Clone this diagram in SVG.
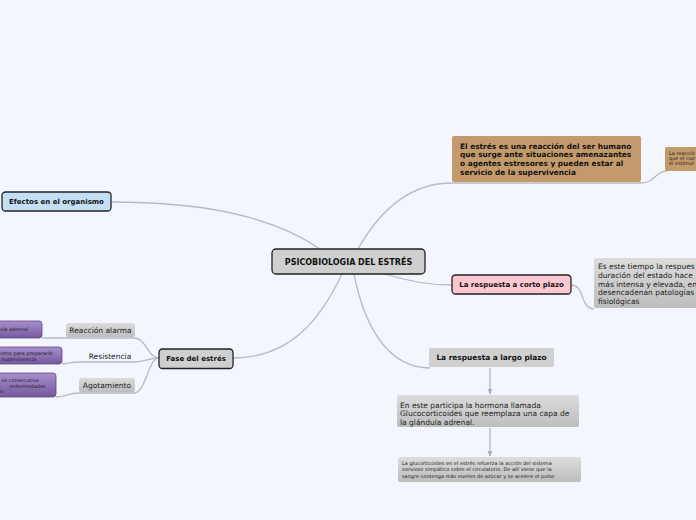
<svg xmlns="http://www.w3.org/2000/svg" width="696" height="520" viewBox="0 0 696 520">
<defs>
<linearGradient id="gg" x1="0" y1="0" x2="0" y2="1"><stop offset="0" stop-color="#dcdcdc"/><stop offset="1" stop-color="#bdbdbd"/></linearGradient>
<linearGradient id="pg" x1="0" y1="0" x2="0" y2="1"><stop offset="0" stop-color="#a690cc"/><stop offset="1" stop-color="#75599f"/></linearGradient>
<marker id="ah" viewBox="0 0 10 10" refX="9" refY="5" markerWidth="5" markerHeight="5" orient="auto"><path d="M0,1 L10,5 L0,9 z" fill="#a8a8b0"/></marker>
<style>
.bg{fill:#f3f6fd}
.con{fill:none;stroke:#b9bac2;stroke-width:1.3}
.arr{fill:none;stroke:#b0b0b8;stroke-width:1.2}
.dark{stroke:#222;stroke-width:1.3}
.gray{fill:url(#gg)}
.pur{fill:url(#pg);stroke:#5e4784;stroke-width:0.8}
.b{font-family:"DejaVu Sans",Verdana,sans-serif;font-weight:bold;fill:#111;font-size:7px}
.t{font-family:"DejaVu Sans",Verdana,sans-serif;fill:#222;font-size:7.5px}
.s{font-family:"DejaVu Sans",Verdana,sans-serif;fill:#222;font-size:5px}
.c{text-anchor:middle}
</style>
</defs>
<rect class="bg" x="0" y="0" width="696" height="520"/>
<g id="connectors">
<path class="con" d="M111,202 C200,202 270,215 320,249"/>
<path class="con" d="M358,249 C380,210 410,183 452,183 L641,183 C655,183 655,171 667,171"/>
<path class="con" d="M385,274 C410,282 430,285 452,285"/>
<path class="con" d="M571,285 C585,285 580,309 594,309"/>
<path class="con" d="M354,274 C365,330 390,368 430,368"/>
<path class="con" d="M342,274 C320,320 290,358 233,358"/>
<path class="con" d="M159,358 C148,358 146,338 134,338 L66,338 C55,338 52,338 42,338"/>
<path class="con" d="M159,358 C148,358 146,362 134,362 L80,362 C70,362 68,364 62,364"/>
<path class="con" d="M159,358 C148,358 146,393 134,393 L79,393 C68,393 66,397 56,397"/>
<path class="arr" d="M490,368 L490,394" marker-end="url(#ah)"/>
<path class="arr" d="M490,428 L490,456" marker-end="url(#ah)"/>
</g>
<g id="central">
<rect x="272" y="249" width="153" height="25" rx="4" fill="#cfcfcf" class="dark"/>
<text class="b c" x="348.5" y="264.8" style="font-size:8px">PSICOBIOLOGIA DEL ESTRÉS</text>
</g>
<g id="efectos">
<rect x="2" y="192" width="109" height="19" rx="3.5" fill="#c4dff3" class="dark"/>
<text class="b c" x="56.5" y="204.3">Efectos en el organismo</text>
</g>
<g id="definicion">
<rect x="452" y="136" width="189" height="46" rx="2" fill="#c39a6b"/>
<text class="b" x="460" style="font-size:7.4px"><tspan x="460" y="148.5">El estrés es una reacción del ser humano</tspan><tspan x="460" y="157.4">que surge ante situaciones amenazantes</tspan><tspan x="460" y="166.3">o agentes estresores y pueden estar al</tspan><tspan x="460" y="175.2">servicio de la supervivencia</tspan></text>
</g>
<g id="reaccion-cuerpo">
<rect x="665" y="147" width="40" height="24" rx="2" fill="#c39a6b"/>
<text class="s"><tspan x="669" y="154.5">La reacció</tspan><tspan x="669" y="159.8">que el cue</tspan><tspan x="669" y="165.1">el estímul</tspan></text>
</g>
<g id="corto-plazo">
<rect x="452" y="275" width="119" height="19" rx="3.5" fill="#fbc8d2" class="dark"/>
<text class="b c" x="511.5" y="287.3">La respuesta a corto plazo</text>
</g>
<g id="corto-detalle">
<rect x="594" y="258" width="110" height="50" rx="2" class="gray"/>
<text class="t"><tspan x="598" y="269">Es este tiempo la respues</tspan><tspan x="598" y="277.8">duración del estado hace</tspan><tspan x="598" y="286.6">más intensa y elevada, en</tspan><tspan x="598" y="295.4">desencadenan patologías</tspan><tspan x="598" y="304.2">fisiológicas</tspan></text>
</g>
<g id="largo-plazo">
<rect x="429" y="348" width="125" height="19" rx="2" fill="#d0d0d0"/>
<text class="b c" x="491.5" y="360.3" style="font-size:7.4px">La respuesta a largo plazo</text>
</g>
<g id="glucocorticoides">
<rect x="397" y="395" width="182" height="32" rx="2" class="gray"/>
<text class="t"><tspan x="400" y="407.7">En este participa la hormona llamada</tspan><tspan x="400" y="416.4">Glucocorticoides que reemplaza una capa de</tspan><tspan x="400" y="425.1">la glándula adrenal.</tspan></text>
</g>
<g id="glucocorticoides-efecto">
<rect x="398" y="457" width="183" height="25" rx="2" class="gray"/>
<text class="s"><tspan x="402" y="464.5">La glucorticoides en el estrés refuerza la acción del sistema</tspan><tspan x="402" y="471.1">nervioso simpático sobre el circulatorio. De allí viene que la</tspan><tspan x="402" y="477.8">sangre contenga más niveles de azúcar y se acelere el pulso</tspan></text>
</g>
<g id="fase">
<rect x="159" y="349" width="74" height="19.5" rx="3.5" fill="#cfcfcf" class="dark"/>
<text class="b c" x="196" y="361.3">Fase del estrés</text>
</g>
<g id="alarma">
<rect x="66" y="323" width="69" height="14" rx="2" class="gray"/>
<text class="t c" x="100.5" y="332.7">Reacción alarma</text>
</g>
<g id="resistencia">
<text class="t c" x="110" y="358.7">Resistencia</text>
</g>
<g id="agotamiento">
<rect x="79" y="378" width="56" height="14" rx="2" class="gray"/>
<text class="t c" x="107" y="387.7">Agotamiento</text>
</g>
<g id="alarma-detalle">
<rect x="-6" y="321" width="48" height="17" rx="3" class="pur"/>
<text class="s" x="0" y="331">ula adrenal</text>
</g>
<g id="resistencia-detalle">
<rect x="-6" y="347" width="68" height="17" rx="3" class="pur"/>
<text class="s"><tspan x="0" y="354.5">ismo para prepararlo</tspan><tspan x="1.5" y="360.6">supervivencia</tspan></text>
</g>
<g id="agotamiento-detalle">
<rect x="-6" y="373" width="62" height="24" rx="3" class="pur"/>
<text class="s"><tspan x="1.5" y="381.5">es consecutivo</tspan><tspan x="9.5" y="387.5">enfermedades</tspan><tspan x="0" y="393.3">o</tspan></text>
</g>
</svg>
